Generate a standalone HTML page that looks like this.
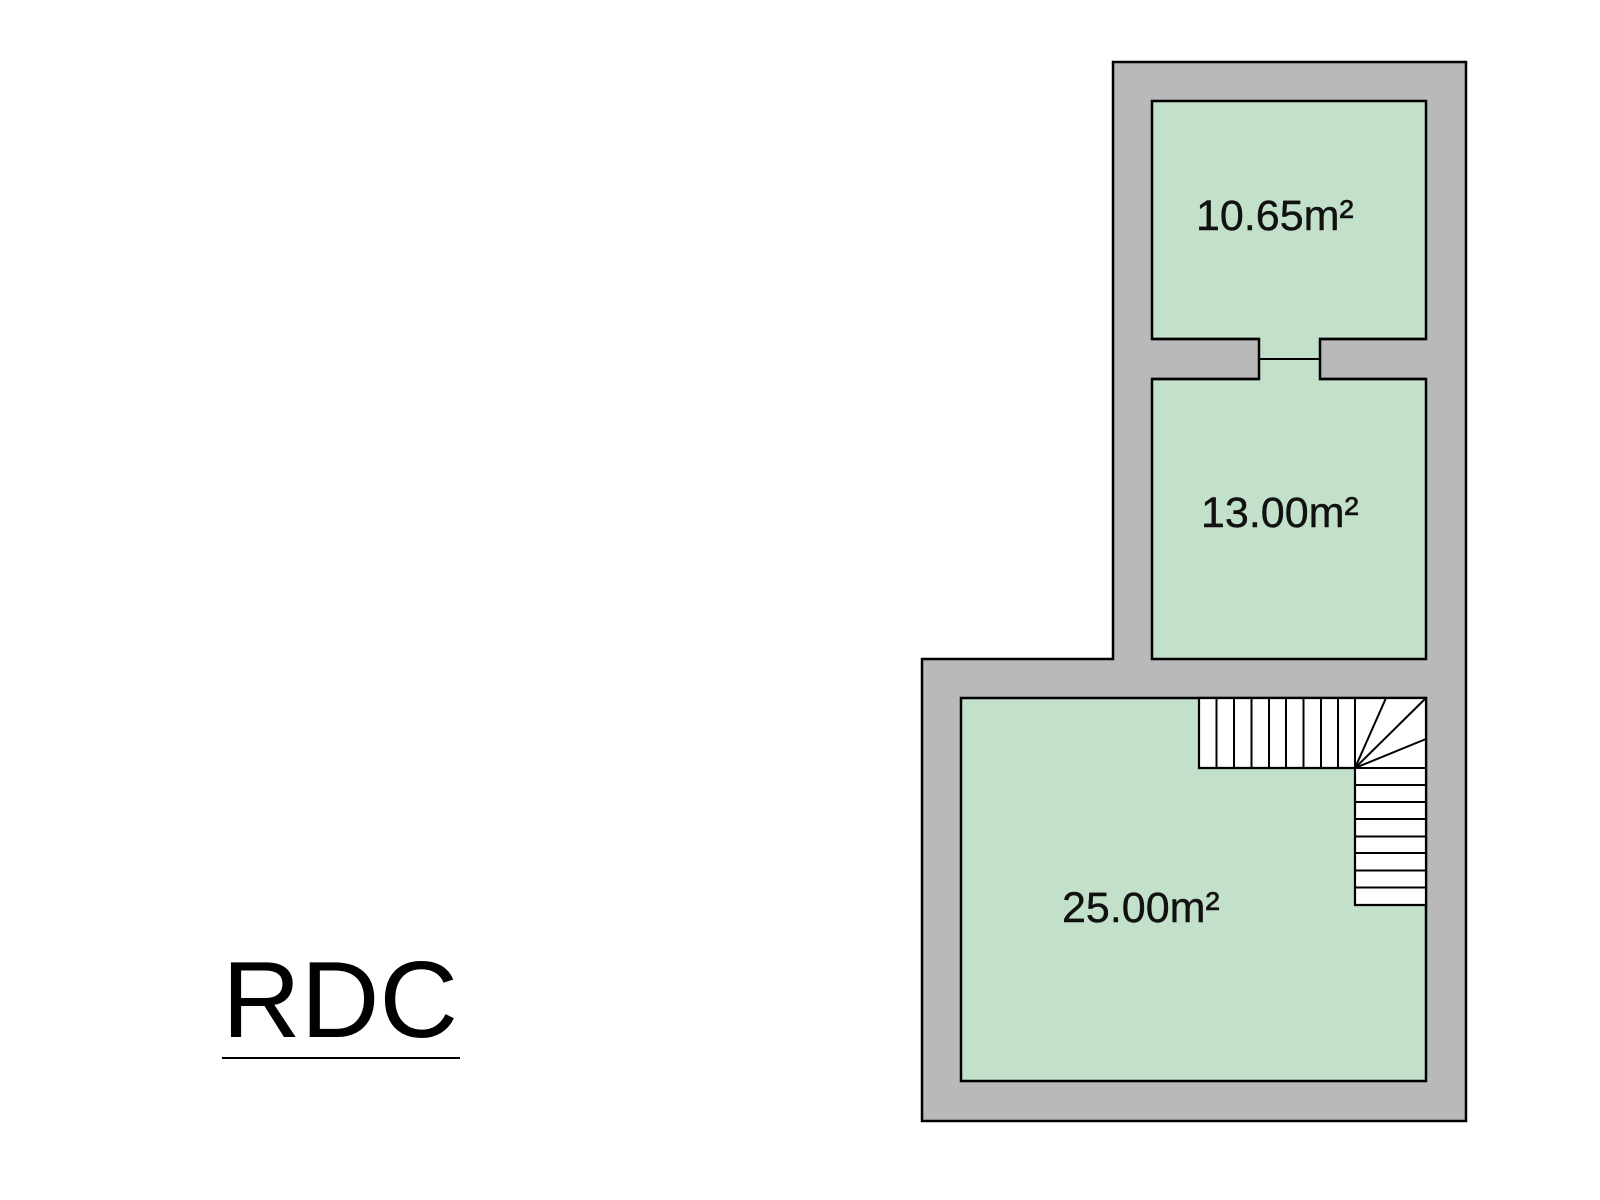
<!DOCTYPE html>
<html><head><style>body{margin:0;background:#fff;}</style></head><body>
<svg width="1600" height="1200" xmlns="http://www.w3.org/2000/svg" style="display:block">
<path d="M1113 62 H1466 V1121 H922 V659 H1113 Z" fill="#b9b9b9" stroke="#000" stroke-width="2.5"/>
<g fill="#c3e0ca" stroke="#000" stroke-width="2.5">
<rect x="1152" y="101" width="274" height="238"/>
<rect x="1152" y="379" width="274" height="280"/>
<rect x="961" y="698" width="465" height="383"/>
</g>
<rect x="1259" y="337" width="60" height="44" fill="#c3e0ca"/>
<g stroke="#000" stroke-width="2.5" fill="none">
<path d="M1152 339 H1259 V379 H1152 M1426 339 H1320 V379 H1426"/>
<line x1="1259" y1="359" x2="1320" y2="359" stroke-width="2"/>
</g>
<g stroke="#000" stroke-width="2.2" fill="#fff">
<path d="M1199 698 H1426 V905 H1355 V768 H1199 Z"/>
</g>
<g stroke="#000" stroke-width="2">
<line x1="1216.5" y1="698" x2="1216.5" y2="768"/>
<line x1="1234" y1="698" x2="1234" y2="768"/>
<line x1="1251.5" y1="698" x2="1251.5" y2="768"/>
<line x1="1269" y1="698" x2="1269" y2="768"/>
<line x1="1286" y1="698" x2="1286" y2="768"/>
<line x1="1303.5" y1="698" x2="1303.5" y2="768"/>
<line x1="1321" y1="698" x2="1321" y2="768"/>
<line x1="1338" y1="698" x2="1338" y2="768"/>
<line x1="1355" y1="698" x2="1355" y2="768"/>
<line x1="1355" y1="768" x2="1386" y2="698"/>
<line x1="1355" y1="768" x2="1426" y2="698"/>
<line x1="1355" y1="768" x2="1426" y2="739"/>
<line x1="1355" y1="768" x2="1426" y2="768"/>
<line x1="1355" y1="785" x2="1426" y2="785"/>
<line x1="1355" y1="802" x2="1426" y2="802"/>
<line x1="1355" y1="819" x2="1426" y2="819"/>
<line x1="1355" y1="836.5" x2="1426" y2="836.5"/>
<line x1="1355" y1="853" x2="1426" y2="853"/>
<line x1="1355" y1="870.5" x2="1426" y2="870.5"/>
<line x1="1355" y1="887.5" x2="1426" y2="887.5"/>
</g>
<g font-family="Liberation Sans, sans-serif" font-size="43" fill="#111" stroke="#111" stroke-width="0.4">
<text x="1196" y="230">10.65m²</text>
<text x="1201" y="527">13.00m²</text>
<text x="1062" y="922">25.00m²</text>
</g>
<text x="222" y="1037" font-family="Liberation Sans, sans-serif" font-size="109" fill="#000">RDC</text>
<line x1="222" y1="1058" x2="460" y2="1058" stroke="#000" stroke-width="2"/>
</svg>
</body></html>
